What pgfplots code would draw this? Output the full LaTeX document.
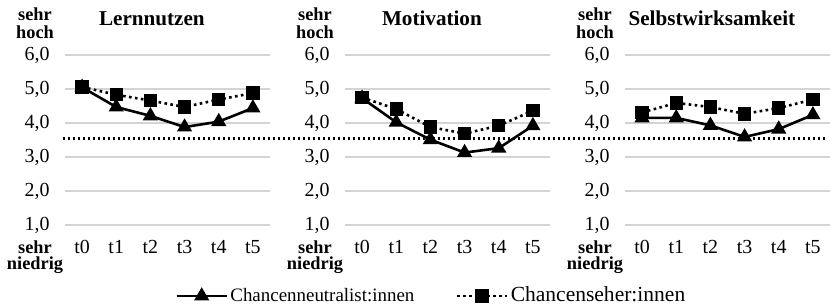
\documentclass[border=0pt]{standalone}
\usepackage{fontspec}
\setmainfont{Liberation Serif}
\usepackage{pgfplots}
\pgfplotsset{compat=1.18}

\pgfplotsset{
 panel/.style={
  width=102.5bp, height=85bp, scale only axis,
  xmin=-0.5, xmax=5.5, ymin=1, ymax=6,
  xtick={0,...,5}, xticklabels={t0,t1,t2,t3,t4,t5},
  ytick={1,...,6},
  /pgf/number format/.cd, fixed, fixed zerofill, precision=1, use comma, assume math mode=true, /pgfplots/.cd,
  axis line style={draw=none},
  major tick length=0pt,
  ymajorgrids,
  grid style={draw=black!17, line width=0.6bp},
  tick label style={font=\fontsize{10}{12}\selectfont},
  xticklabel style={anchor=base, yshift=-14bp},
  yticklabel style={xshift=-4.2bp},
  title style={at={(rel axis cs:0.424,1)}, anchor=base, yshift=9bp, font=\bfseries\fontsize{10.6}{12}\selectfont},
  clip=false,
  tri/.style={black, line width=1.3bp, mark=triangle*, mark size=3.1bp, mark options={solid}},
  sq/.style={black, line width=1.3bp, dash pattern=on 1.3bp off 1.7bp, mark=square*, mark size=2.7bp, mark options={solid}},
 },
 sidelabels/.style={
  extra description/.code={
   \node[anchor=base, font=\bfseries\fontsize{9.2}{10}\selectfont] at ([xshift=-15bp,yshift=17bp]rel axis cs:0,1) {sehr};
   \node[anchor=base, font=\bfseries\fontsize{9.2}{10}\selectfont] at ([xshift=-15bp,yshift=8bp]rel axis cs:0,1) {hoch};
   \node[anchor=base, font=\bfseries\fontsize{9.2}{10}\selectfont] at ([xshift=-15bp,yshift=-14bp]rel axis cs:0,0) {sehr};
   \node[anchor=base, font=\bfseries\fontsize{9.2}{10}\selectfont] at ([xshift=-15bp,yshift=-22bp]rel axis cs:0,0) {niedrig};
  }
 }
}

\begin{document}
\begin{tikzpicture}
\begin{axis}[panel, sidelabels, title={Lernnutzen}, at={(0bp,0bp)},
  legend style={at={(rel axis cs:0,0)}, anchor=west, xshift=55bp, yshift=-35.5bp, draw=none, fill=none, inner sep=0pt,
    /tikz/every even column/.append style={column sep=19.5bp}, nodes={inner sep=1.2bp, anchor=west}},
  legend columns=2, legend cell align=left,
  legend image code/.code={\draw[mark repeat=2,mark phase=2,#1] plot coordinates {(0bp,0bp) (12.5bp,0bp) (25bp,0bp)};}]
\addplot[black, line width=1.2bp, dash pattern=on 1.2bp off 1.3bp, forget plot] coordinates {(-0.57,3.54) (21.8,3.54)};
\addplot[tri] coordinates {(0,5.05) (1,4.47) (2,4.21) (3,3.88) (4,4.04) (5,4.44)};
\addlegendentry{\fontsize{9.5}{11}\selectfont Chancenneutralist:innen}
\addplot[sq] coordinates {(0,5.06) (1,4.83) (2,4.66) (3,4.47) (4,4.69) (5,4.88)};
\addlegendentry{\fontsize{10.8}{12}\selectfont Chancenseher:innen}
\end{axis}

\begin{axis}[panel, sidelabels, title={Motivation}, at={(140bp,0bp)}]
\addplot[tri] coordinates {(0,4.73) (1,4.02) (2,3.51) (3,3.13) (4,3.26) (5,3.92)};
\addplot[sq] coordinates {(0,4.75) (1,4.41) (2,3.88) (3,3.69) (4,3.92) (5,4.36)};
\end{axis}

\begin{axis}[panel, sidelabels, title={Selbstwirksamkeit}, at={(280bp,0bp)}]
\addplot[tri] coordinates {(0,4.15) (1,4.15) (2,3.93) (3,3.59) (4,3.82) (5,4.24)};
\addplot[sq] coordinates {(0,4.31) (1,4.59) (2,4.47) (3,4.27) (4,4.44) (5,4.69)};
\end{axis}

\pgfresetboundingbox
\path[use as bounding box] (-32.5bp,112.5bp) rectangle (382.5bp,-41bp);
\end{tikzpicture}
\end{document}
